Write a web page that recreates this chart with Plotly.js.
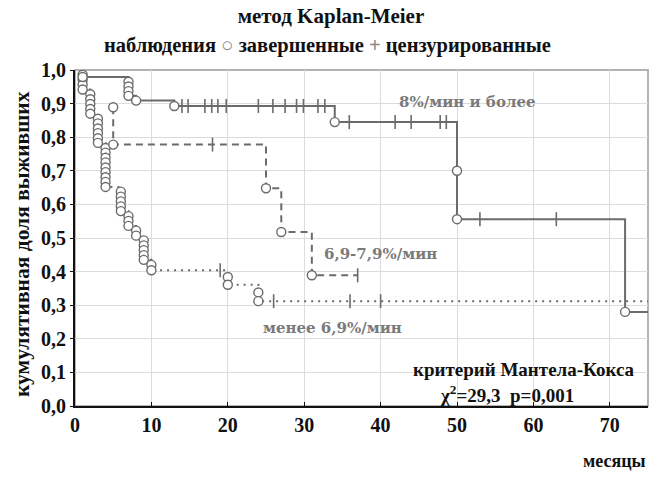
<!DOCTYPE html>
<html>
<head>
<meta charset="utf-8">
<script src="https://cdn.plot.ly/plotly-3.0.1.min.js"></script>
<style>html,body{margin:0;padding:0;background:#fff}#chart{width:649px;height:479px}</style>
</head>
<body>
<div id="chart"></div>
<script>
// ---- Group "8%/мин и более" (solid) ----
const hiEventMonths = [1, 7, 7, 7, 7, 8, 13, 34, 50, 50, 72];
const hiEventSurv   = [0.979, 0.965, 0.951, 0.937, 0.923, 0.909, 0.893, 0.845, 0.700, 0.556, 0.280];
const hiCensorMonths = [14, 14.8, 17, 17.9, 18.7, 19.8, 24, 25.9, 27.5, 29, 29.9, 31.8, 32.7, 35.9, 41.9, 44, 47.8, 48.6, 53, 63];
const hiCensorSurv   = [0.893, 0.893, 0.893, 0.893, 0.893, 0.893, 0.893, 0.893, 0.893, 0.893, 0.893, 0.893, 0.893, 0.845, 0.845, 0.845, 0.845, 0.845, 0.556, 0.556];
const hiLastMonth = 75;

// ---- Group "6,9-7,9%/мин" (dashed) ----
const midEventMonths = [5, 5, 25, 27, 31];
const midEventSurv   = [0.889, 0.778, 0.648, 0.518, 0.389];
const midCensorMonths = [18, 37];
const midCensorSurv   = [0.778, 0.389];
const midLastMonth = 37;

// ---- Group "менее 6,9%/мин" (dotted) ----
const loEventMonths = [1, 1, 1, 1, 2, 2, 2, 2, 2, 3, 3, 3, 3, 3, 3, 4, 4, 4, 4, 4, 4, 4, 4, 4,
                       6, 6, 6, 6, 6, 7, 7, 7, 8, 8, 9, 9, 9, 9, 9, 10, 10, 20, 20, 24, 24];
const loEventSurv   = [0.986, 0.971, 0.957, 0.942, 0.928, 0.913, 0.899, 0.884, 0.870,
                       0.855, 0.841, 0.826, 0.812, 0.797, 0.783,
                       0.768, 0.754, 0.739, 0.725, 0.710, 0.696, 0.681, 0.667, 0.652,
                       0.638, 0.623, 0.609, 0.594, 0.580, 0.565, 0.551, 0.536, 0.522, 0.507,
                       0.493, 0.478, 0.464, 0.449, 0.435, 0.420, 0.404, 0.384, 0.361, 0.338, 0.312];
const loCensorMonths = [19, 26, 36, 40];
const loCensorSurv   = [0.404, 0.312, 0.312, 0.312];
const loLastMonth = 75;

const xTickVals = [0, 10, 20, 30, 40, 50, 60, 70];
const yTickVals = [0, 0.1, 0.2, 0.3, 0.4, 0.5, 0.6, 0.7, 0.8, 0.9, 1.0];

const chartTitle = 'метод Kaplan-Meier';
const xTitle = 'месяцы';
const yTitle = 'кумулятивная доля выживших';
const labelHi = '8%/мин и более';
const labelMid = '6,9-7,9%/мин';
const labelLo = 'менее 6,9%/мин';
const testName = 'критерий Мантела-Кокса';
const testStat = 'χ<sup>2</sup>=29,3  p=0,001';

const GRAY = '#6b6b6b';
const SERIF = 'Liberation Serif, Times New Roman, serif';
const SERIF2 = 'DejaVu Serif, serif';

function stepLine(months, surv, last, dash) {
  const x = months.slice(); const y = surv.slice();
  x.push(last); y.push(surv[surv.length - 1]);
  return {x, y, type: 'scatter', mode: 'lines', line: {shape: 'hv', color: GRAY, width: 2, dash: dash},
          hoverinfo: 'skip', showlegend: false};
}
function censors(months, surv) {
  return {x: months, y: surv, type: 'scatter', mode: 'markers',
          marker: {symbol: 'line-ns-open', size: 10, color: GRAY, line: {color: GRAY, width: 1.6}}, showlegend: false};
}
function events(months, surv) {
  return {x: months, y: surv, type: 'scatter', mode: 'markers',
          marker: {symbol: 'circle', size: 9, color: '#fff', line: {color: GRAY, width: 1.4}}, showlegend: false};
}

const data = [
  stepLine(loEventMonths, loEventSurv, loLastMonth, '2px,5px'),
  stepLine(midEventMonths, midEventSurv, midLastMonth, '7px,5px'),
  stepLine(hiEventMonths, hiEventSurv, hiLastMonth, 'solid'),
  censors(loCensorMonths, loCensorSurv),
  censors(midCensorMonths, midCensorSurv),
  censors(hiCensorMonths, hiCensorSurv),
  events(loEventMonths, loEventSurv),
  events(midEventMonths, midEventSurv),
  events(hiEventMonths, hiEventSurv)
];

const boldFont = (size, color, fam) => ({family: fam || SERIF, size: size, color: color || '#111', weight: 'bold'});

const layout = {
  width: 649, height: 479,
  margin: {l: 75, r: 1, t: 70, b: 73},
  paper_bgcolor: '#fff', plot_bgcolor: '#fff',
  separators: ', ',
  showlegend: false,
  title: {text: chartTitle, font: boldFont(21), x: 0.51, xanchor: 'center', y: 0.968, yanchor: 'middle'},
  xaxis: {
    range: [0, 75], tickvals: xTickVals, ticktext: xTickVals.map(String),
    showgrid: true, gridcolor: '#dcdcdc', gridwidth: 1, zeroline: false,
    showline: true, linecolor: '#111', linewidth: 2,
    ticks: 'inside', ticklen: 4, tickcolor: '#111', tickfont: boldFont(20)
  },
  yaxis: {
    range: [0, 1], tickvals: yTickVals, tickformat: '.1f',
    showgrid: true, gridcolor: '#dcdcdc', gridwidth: 1, zeroline: false,
    showline: true, linecolor: '#111', linewidth: 2,
    ticks: 'outside', ticklen: 3, tickcolor: '#111', tickfont: boldFont(20)
  },
  shapes: [
    {type: 'rect', xref: 'paper', yref: 'paper', x0: 0, x1: 1, y0: 0, y1: 1, line: {color: '#9a9a9a', width: 1.5}, layer: 'below'}
  ],
  annotations: [
    {xref: 'paper', yref: 'paper', x: 0.44, y: 1.073, xanchor: 'center', yanchor: 'middle', showarrow: false,
     text: 'наблюдения <span style="color:#8a8a8a">○</span> завершенные <span style="color:#8a8a8a">+</span> цензурированные',
     font: boldFont(20.5)},
    {xref: 'paper', yref: 'paper', x: 1, y: -0.165, xanchor: 'right', yanchor: 'middle', showarrow: false,
     text: xTitle, font: boldFont(18)},
    {xref: 'paper', yref: 'paper', x: -0.0925, y: 0.482, xanchor: 'center', yanchor: 'middle', showarrow: false,
     textangle: -90, text: yTitle, font: boldFont(21.5)},
    {xref: 'x', yref: 'y', x: 42.2, y: 0.905, xanchor: 'left', yanchor: 'middle', showarrow: false,
     text: labelHi, font: boldFont(15, '#7a7a7a', SERIF2)},
    {xref: 'x', yref: 'y', x: 32.3, y: 0.452, xanchor: 'left', yanchor: 'middle', showarrow: false,
     text: labelMid, font: boldFont(15, '#7a7a7a', SERIF2)},
    {xref: 'x', yref: 'y', x: 24.4, y: 0.232, xanchor: 'left', yanchor: 'middle', showarrow: false,
     text: labelLo, font: boldFont(15, '#7a7a7a', SERIF2)},
    {xref: 'x', yref: 'y', x: 73.5, y: 0.108, xanchor: 'right', yanchor: 'middle', showarrow: false,
     text: testName, font: boldFont(19)},
    {xref: 'x', yref: 'y', x: 56.5, y: 0.035, xanchor: 'center', yanchor: 'middle', showarrow: false,
     text: testStat, font: boldFont(19)}
  ]
};

Plotly.newPlot('chart', data, layout, {displayModeBar: false, staticPlot: true});
</script>
</body>
</html>
